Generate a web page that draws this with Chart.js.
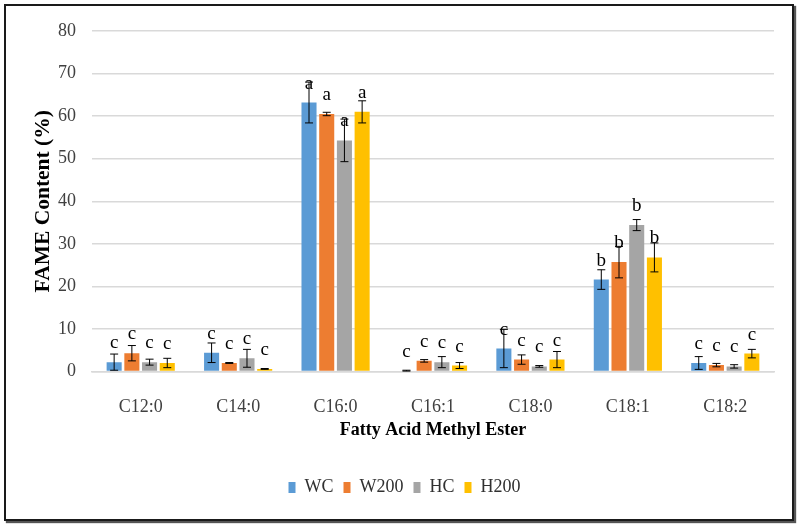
<!DOCTYPE html>
<html>
<head>
<meta charset="utf-8">
<script src="https://cdn.jsdelivr.net/npm/chart.js@4.4.1/dist/chart.umd.min.js"></script>
<style>
  html, body { margin: 0; padding: 0; background: #fff; }
  #wrap { position: relative; width: 800px; height: 527px; overflow: hidden; }
  #c { position: absolute; left: 0; top: 0; }
  #frame { position: absolute; left: 4px; top: 4px; width: 790px; height: 517px; box-sizing: border-box;
           border: 2px solid #1a1a1a; box-shadow: 2px 2px 1px #555; pointer-events: none; }
</style>
</head>
<body>
<div id="wrap">
  <canvas id="c" width="800" height="527"></canvas>
  <div id="frame"></div>
</div>
<script>
const categories = ['C12:0', 'C14:0', 'C16:0', 'C16:1', 'C18:0', 'C18:1', 'C18:2'];
const seriesNames = ['WC', 'W200', 'HC', 'H200'];
const WC       = [2.2, 4.4, 63.2, 0.2, 5.4, 21.6, 2.0];
const WC_err   = [1.9, 2.3, 4.8, 0.1, 4.5, 2.3, 1.5];
const W200     = [4.3, 2.0, 60.5, 2.5, 2.8, 25.7, 1.5];
const W200_err = [1.8, 0.1, 0.4, 0.3, 1.1, 3.7, 0.4];
const HC       = [2.2, 3.1, 54.3, 2.2, 1.2, 34.4, 1.2];
const HC_err   = [0.7, 2.1, 5.0, 1.3, 0.2, 1.3, 0.4];
const H200     = [2.0, 0.6, 61.0, 1.4, 2.8, 26.8, 4.2];
const H200_err = [1.1, 0.1, 2.6, 0.7, 1.9, 3.4, 1.0];
const letters  = ['c', 'c', 'a', 'c', 'c', 'b', 'c'];
const yTicks   = [0, 10, 20, 30, 40, 50, 60, 70, 80];

const colors = ['#5B9BD5', '#ED7D31', '#A5A5A5', '#FFC000'];
const values = [WC, W200, HC, H200];
const errors = [WC_err, W200_err, HC_err, H200_err];
const SERIF = '"Liberation Serif", "Times New Roman", serif';

const errPlugin = {
  id: 'errLetters',
  afterLayout(chart) {
    if (chart.legend) { chart.legend.left += 17.5; chart.legend.right += 17.5; }
  },
  afterDatasetsDraw(chart) {
    const ctx = chart.ctx;
    const y = chart.scales.y;
    ctx.save();
    chart.data.datasets.forEach((ds, di) => {
      const meta = chart.getDatasetMeta(di);
      meta.data.forEach((bar, i) => {
        const v = ds.data[i];
        const e = ds.errors[i];
        const yt = y.getPixelForValue(v + e);
        const yb = y.getPixelForValue(Math.max(0, v - e));
        const x = bar.x;
        ctx.strokeStyle = '#000';
        ctx.lineWidth = 1;
        ctx.beginPath();
        ctx.moveTo(x, yt); ctx.lineTo(x, yb);
        ctx.moveTo(x - 4, yt); ctx.lineTo(x + 4, yt);
        ctx.moveTo(x - 4, yb); ctx.lineTo(x + 4, yb);
        ctx.stroke();
        ctx.fillStyle = '#000';
        ctx.font = '19px ' + SERIF;
        ctx.textAlign = 'center';
        ctx.textBaseline = 'alphabetic';
        ctx.fillText(letters[i], x, bar.y - 14);
      });
    });
    ctx.restore();
  }
};

new Chart(document.getElementById('c'), {
  type: 'bar',
  data: {
    labels: categories,
    datasets: seriesNames.map((n, k) => ({
      label: n,
      data: values[k],
      errors: errors[k],
      backgroundColor: colors[k],
      borderWidth: 0,
      barPercentage: 0.85,
      categoryPercentage: 0.727
    }))
  },
  options: {
    responsive: false,
    animation: false,
    events: [],
    layout: { padding: { left: 0, right: 26, top: 31, bottom: 20.5 } },
    plugins: {
      tooltip: { enabled: false },
      legend: {
        position: 'bottom',
        labels: {
          font: { family: SERIF, size: 18 },
          color: '#303030',
          boxWidth: 7,
          boxHeight: 11,
          padding: 10
        }
      }
    },
    scales: {
      x: {
        grid: { display: false, drawTicks: false },
        border: { color: '#D9D9D9', width: 1.5 },
        ticks: { font: { family: SERIF, size: 18 }, color: '#404040', padding: 24.5 },
        title: { display: true, text: 'Fatty Acid Methyl Ester', font: { family: SERIF, size: 18, weight: 'bold' }, color: '#000', padding: { top: 0, bottom: 27.7 } },
        afterFit(s) { s.height = 97; }
      },
      y: {
        min: 0, max: 80,
        afterBuildTicks(s) { s.ticks = yTicks.map(v => ({ value: v })); },
        grid: { color: '#D9D9D9', lineWidth: 1.5, drawTicks: false },
        border: { display: false },
        ticks: { font: { family: SERIF, size: 18 }, color: '#404040', padding: 16 },
        title: { display: true, text: 'FAME Content (%)', font: { family: SERIF, size: 21.5, weight: 'bold' }, color: '#000', padding: { top: 31, bottom: 0 } },
        afterFit(s) { s.width = 92; }
      }
    }
  },
  plugins: [errPlugin]
});
</script>
</body>
</html>
